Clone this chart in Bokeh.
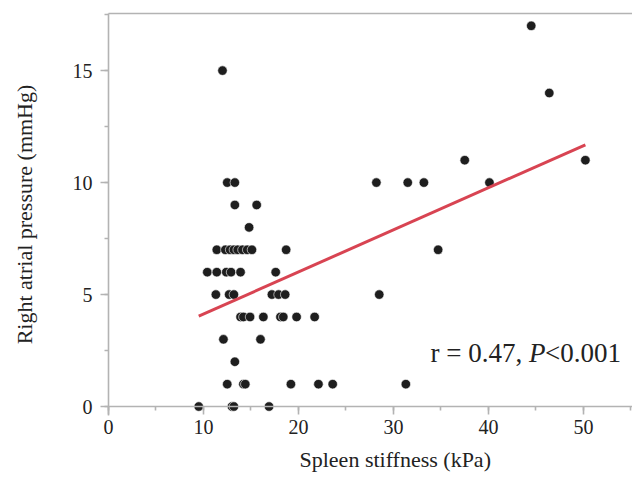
from bokeh.plotting import figure
from bokeh.models import LinearAxis, FixedTicker, SingleIntervalTicker, Label, Range1d, Span, Title
from bokeh.embed import file_html
from bokeh.resources import INLINE
import numpy as np

# ---- data ----
stiffness = [44.5,
             12.0,
             46.4,
             37.5, 50.2,
             12.5, 13.3, 28.2, 31.5, 33.2, 40.1,
             13.3, 15.6,
             14.8,
             11.4, 12.3, 12.8, 13.2, 13.6, 14.1, 14.6, 15.1, 18.7, 34.7,
             10.4, 11.4, 12.4, 12.9, 13.9, 17.6,
             11.3, 12.7, 13.2, 17.2, 17.9, 18.6, 28.5,
             13.9, 14.2, 14.9, 16.3, 18.1, 18.4, 19.8, 21.7,
             12.1, 16.0,
             13.3,
             12.5, 14.2, 14.4, 19.2, 22.1, 23.6, 31.3,
             9.5, 13.0, 13.2, 16.9]
pressure = [17,
            15,
            14,
            11, 11,
            10, 10, 10, 10, 10, 10,
            9, 9,
            8,
            7, 7, 7, 7, 7, 7, 7, 7, 7, 7,
            6, 6, 6, 6, 6, 6,
            5, 5, 5, 5, 5, 5, 5,
            4, 4, 4, 4, 4, 4, 4, 4,
            3, 3,
            2,
            1, 1, 1, 1, 1, 1, 1,
            0, 0, 0, 0]
fit_intercept = 2.25
fit_slope = 0.188
x_title = "Spleen stiffness (kPa)"
y_title = "Right atrial pressure (mmHg)"
stat_parts = ["r = 0.47, ", "P", "<0.001"]

FONT = "Liberation Serif"
AXIS_GRAY = "#b3b3b3"
TXT = "#222222"

p = figure(width=632, height=485, output_backend="svg", toolbar_location=None,
           x_range=Range1d(0, 55.16), y_range=Range1d(-0.4, 17.55),
           x_axis_location=None, y_axis_location=None,
           min_border_left=108, min_border_right=0, min_border_top=13,
           min_border_bottom=70)
p.grid.visible = False
p.outline_line_color = None
p.background_fill_color = "white"
p.border_fill_color = "white"

def style_axis(ax):
    ax.axis_line_color = AXIS_GRAY
    ax.axis_line_width = 1.6
    ax.major_tick_line_color = AXIS_GRAY
    ax.major_tick_line_width = 1.6
    ax.minor_tick_line_color = AXIS_GRAY
    ax.minor_tick_line_width = 1.6
    ax.major_tick_in = 0
    ax.major_tick_out = 8
    ax.minor_tick_in = 0
    ax.minor_tick_out = 4
    ax.major_label_text_font = FONT
    ax.major_label_text_font_size = "20px"
    ax.major_label_text_color = TXT
    ax.axis_label_text_font = FONT
    ax.axis_label_text_font_size = "22px"
    ax.axis_label_text_font_style = "normal"
    ax.axis_label_text_color = TXT

# x axis: drawn at the frame bottom (slightly below 0); the rule is drawn at y=0
xaxis = LinearAxis(ticker=SingleIntervalTicker(interval=10, num_minor_ticks=2))
style_axis(xaxis)
xaxis.axis_line_color = None
xaxis.major_tick_in = 9
xaxis.major_tick_out = -1
xaxis.minor_tick_in = 9
xaxis.minor_tick_out = -5
xaxis.major_label_standoff = 5
p.add_layout(xaxis, "below")
p.add_layout(Span(location=0, dimension="width", line_color=AXIS_GRAY, line_width=1.6))

# x axis title, placed as in the original (right of the frame centre)
p.add_layout(Title(text=x_title, align="left", offset=191, standoff=17,
                   text_font=FONT, text_font_size="22px", text_font_style="normal",
                   text_color=TXT), "below")

yaxis = LinearAxis(ticker=SingleIntervalTicker(interval=5, num_minor_ticks=2),
                   axis_label=y_title)
style_axis(yaxis)
yaxis.major_label_standoff = 8
yaxis.axis_label_standoff = 33
p.add_layout(yaxis, "left")

# top rule only
top = LinearAxis(ticker=FixedTicker(ticks=[]))
top.axis_line_color = AXIS_GRAY
top.axis_line_width = 1.6
top.major_tick_out = 0
top.major_tick_in = 0
top.minor_tick_out = 0
top.minor_tick_in = 0
top.major_label_standoff = 0
top.axis_label_standoff = 0
top.major_label_text_font_size = "0px"
p.add_layout(top, "above")

p.scatter(stiffness, pressure, size=9.5, marker="circle",
          fill_color="#1e1e1e", line_color="white", line_width=0.6)

tx = np.array([min(stiffness), max(stiffness)])
ty = fit_intercept + fit_slope * tx
p.line(tx, ty, line_color="#d84452", line_width=3)

sx, sy = 33.9, 2.37
offsets = [0, 98.5, 114.5]
styles = ["normal", "italic", "normal"]
for part, off, st in zip(stat_parts, offsets, styles):
    p.add_layout(Label(x=sx, y=sy, x_offset=off, text=part, text_font=FONT,
                       text_font_size="27px", text_font_style=st,
                       text_color=TXT, text_baseline="alphabetic"))

open("out.html", "w").write(file_html(p, INLINE))
